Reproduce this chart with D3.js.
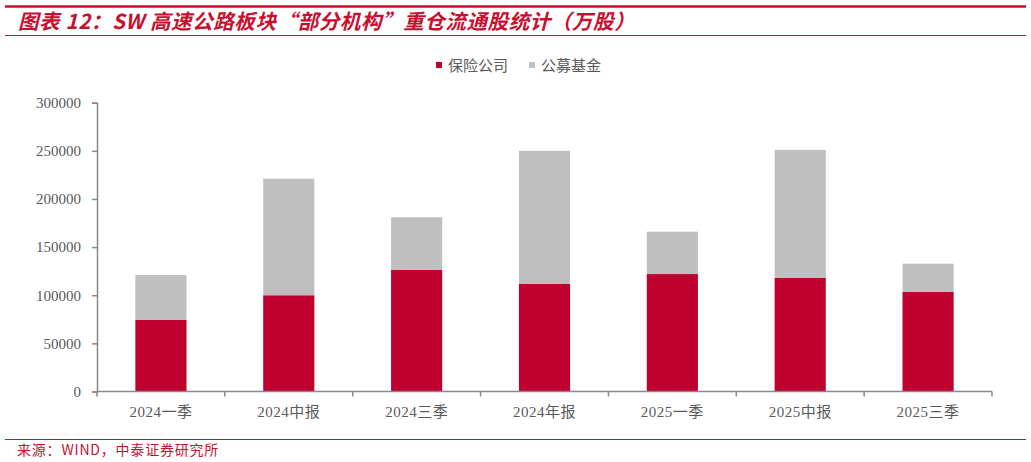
<!DOCTYPE html>
<html>
<head>
<meta charset="utf-8">
<title>SW 高速公路板块重仓流通股统计</title>
<script src="https://cdn.jsdelivr.net/npm/d3@7/dist/d3.min.js"></script>
<style>
  body { margin: 0; background: #fff; }
  svg { display: block; }
</style>
</head>
<body>
<svg width="1031" height="462"></svg>
<script>
// data (万股)
const categories = ['2024一季', '2024中报', '2024三季', '2024年报', '2025一季', '2025中报', '2025三季']
const insurance = [74300, 100000, 126200, 112000, 122000, 118200, 103400]
const fund = [46700, 121000, 54800, 138000, 44000, 132800, 29400]
const seriesNames = ['保险公司', '公募基金']
const yTicks = [0, 50000, 100000, 150000, 200000, 250000, 300000]

const colors = ['#C0002F', '#BFBFBF']
const red = '#C8102E'
const cjk = "'Liberation Serif', 'Noto Sans CJK SC', serif"

const svg = d3.select('svg')

// header lines + title
svg.append('line').attr('x1', 5).attr('x2', 1026).attr('y1', 6.5).attr('y2', 6.5)
  .attr('stroke', red).attr('stroke-width', 2.5)
svg.append('line').attr('x1', 5).attr('x2', 1026).attr('y1', 35.5).attr('y2', 35.5)
  .attr('stroke', red).attr('stroke-width', 1)
svg.append('text').attr('x', 18).attr('y', 29)
  .attr('fill', red).attr('font-size', '20.5px').attr('font-weight', 'bold').attr('font-style', 'italic')
  .attr('letter-spacing', '0.6px')
  .attr('font-family', "'Noto Sans CJK SC', 'Liberation Sans', sans-serif")
  .text('图表 12：SW 高速公路板块“部分机构”重仓流通股统计（万股）')

// footer
svg.append('line').attr('x1', 5).attr('x2', 1026).attr('y1', 439.5).attr('y2', 439.5)
  .attr('stroke', red).attr('stroke-width', 1)
svg.append('text').attr('x', 17).attr('y', 455)
  .attr('fill', red).attr('font-size', '14px').attr('letter-spacing', '0.8px')
  .attr('font-family', "'Noto Sans CJK SC', sans-serif")
  .text('来源：WIND，中泰证券研究所')

// scales
const x = d3.scaleBand(categories, [97, 992]).paddingInner(0.6).paddingOuter(0.3)
const y = d3.scaleLinear([0, 300000], [391.5, 102.7])

const stacked = d3.stack().keys([0, 1]).value((d, k) => d[k])(categories.map((c, i) => [insurance[i], fund[i]]))

const g = svg.append('g')
g.selectAll('g.series').data(stacked).join('g')
  .attr('class', 'series')
  .attr('fill', (d, i) => colors[i])
  .selectAll('rect').data(d => d).join('rect')
  .attr('x', (d, i) => x(categories[i]))
  .attr('width', x.bandwidth())
  .attr('y', d => y(d[1]))
  .attr('height', d => y(d[0]) - y(d[1]))

// y axis
const yAxis = svg.append('g').attr('transform', 'translate(97,0)')
  .call(d3.axisLeft(y).tickValues(yTicks).tickSize(5).tickPadding(11).tickFormat(d3.format('d')))
yAxis.select('.domain').attr('stroke', '#898989').attr('stroke-width', 1.5)
yAxis.selectAll('.tick line').attr('stroke', '#898989').attr('stroke-width', 1.5)
yAxis.selectAll('.tick text').attr('fill', '#595959').attr('font-size', '15px').attr('font-family', cjk)

// x axis: ticks between categories
const xAxis = svg.append('g').attr('transform', 'translate(0,391.5)')
xAxis.append('line').attr('x1', 97).attr('x2', 992).attr('stroke', '#898989').attr('stroke-width', 1.5)
const step = x.step()
const bounds = d3.range(categories.length + 1).map(i => x(categories[0]) - x.paddingOuter() * step + i * step)
xAxis.selectAll('line.tk').data(bounds).join('line').attr('class', 'tk')
  .attr('x1', d => d).attr('x2', d => d).attr('y1', 0).attr('y2', 5)
  .attr('stroke', '#898989').attr('stroke-width', 1.5)
xAxis.selectAll('text').data(categories).join('text')
  .attr('x', d => x(d) + x.bandwidth() / 2).attr('y', 25)
  .attr('text-anchor', 'middle').attr('fill', '#595959')
  .attr('font-size', '15px').attr('font-family', cjk).attr('letter-spacing', '0.5px')
  .text(d => d)

// legend
const legend = svg.append('g')
const legendX = [436, 529]
seriesNames.forEach((name, i) => {
  legend.append('rect').attr('x', legendX[i]).attr('y', 62).attr('width', 6).attr('height', 6).attr('fill', colors[i])
  legend.append('text').attr('x', legendX[i] + 12).attr('y', 70.5)
    .attr('fill', '#595959').attr('font-size', '15px').attr('font-family', cjk).text(name)
})
</script>
</body>
</html>
